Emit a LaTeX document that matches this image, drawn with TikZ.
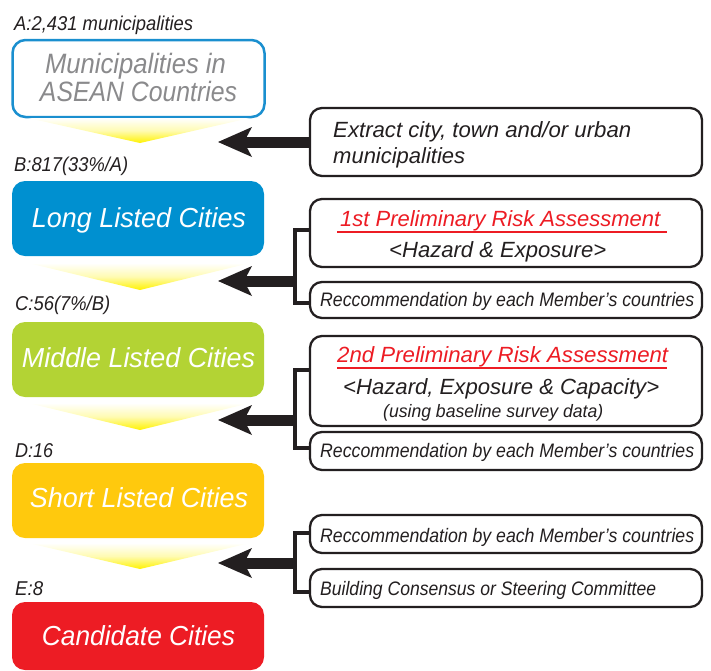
\documentclass[tikz,border=0pt]{standalone}
\usepackage{fontspec}
\setmainfont{Liberation Sans}
\usetikzlibrary{calc}
\newcommand{\fitw}[2]{\resizebox{#1}{\height}{#2}}
\definecolor{cblue}{HTML}{0090D0}
\definecolor{cbord}{HTML}{1A8FCF}
\definecolor{cgreen}{HTML}{B3D334}
\definecolor{corange}{HTML}{FFC90D}
\definecolor{cred}{HTML}{ED1C24}
\definecolor{cyel}{HTML}{FFF200}
\definecolor{cgray}{HTML}{8A8A8C}
\definecolor{ctext}{HTML}{231F20}
\begin{document}
\begin{tikzpicture}[x=1pt,y=-1pt,
  bigbox/.style={rectangle,rounded corners=13pt,minimum width=252pt,inner sep=0pt,draw=none},
  sidebox/.style={rectangle,rounded corners=12pt,minimum width=392pt,inner sep=0pt,draw=ctext,line width=2.3pt,fill=white},
  lbl/.style={anchor=base west,inner sep=0pt,text=ctext,font=\fontsize{20}{20}\selectfont\itshape},
  bigtxt/.style={anchor=base,inner sep=0pt,text=white,font=\fontsize{27.5}{27.5}\selectfont\itshape},
  sidetxt/.style={anchor=base west,inner sep=0pt,text=ctext,font=\fontsize{22}{22}\selectfont\itshape},
  smalltxt/.style={anchor=base west,inner sep=0pt,text=ctext,font=\fontsize{19.5}{19.5}\selectfont\itshape},
  redtxt/.style={anchor=base west,inner sep=0pt,text=cred,font=\fontsize{22}{22}\selectfont\itshape},
  funnel/.style={top color=white,bottom color=cyel,middle color=cyel!30},
  bracketline/.style={line width=4pt,draw=ctext,line join=miter},
  shaft/.style={line width=11pt,draw=ctext},
  head/.style={fill=ctext},
  uline/.style={line width=2.5pt,draw=cred}]
\useasboundingbox (0,0) rectangle (711,670);

% left column boxes
\node[bigbox,draw=cbord,line width=2.5pt,fill=white,minimum height=77pt] (muni) at (138.5,78.5) {};
\node[bigbox,fill=cblue,minimum height=75pt] (long) at (138,218.5) {};
\node[bigbox,fill=cgreen,minimum height=75pt] (middle) at (138,359.5) {};
\node[bigbox,fill=corange,minimum height=75pt] (short) at (138,500.5) {};
\node[bigbox,fill=cred,minimum height=68pt] (cand) at (138,636) {};

% funnels
\shade[funnel] (28,118) -- (250,118) -- (140,143) -- cycle;
\shade[funnel] (28,263) -- (250,263) -- (140,290) -- cycle;
\shade[funnel] (28,403) -- (250,403) -- (140,430) -- cycle;
\shade[funnel] (28,543) -- (250,543) -- (140,569) -- cycle;

% labels
\node[lbl] (la) at (14,30) {\fitw{179pt}{A:2,431 municipalities}};
\node[lbl] (lb) at (14,171) {\fitw{114pt}{B:817(33\%/A)}};
\node[lbl] (lc) at (15,310) {\fitw{95pt}{C:56(7\%/B)}};
\node[lbl] (ld) at (15,457) {\fitw{38pt}{D:16}};
\node[lbl] (le) at (15,595) {\fitw{28pt}{E:8}};

% left box texts
\node[bigtxt,text=cgray,font=\fontsize{28}{28}\selectfont\itshape] (munit1) at (135.5,73) {\fitw{181pt}{Municipalities in}};
\node[bigtxt,text=cgray,font=\fontsize{28}{28}\selectfont\itshape] (munit2) at (138.5,101) {\fitw{197pt}{ASEAN Countries}};
\node[bigtxt] (longt) at (139,227) {\fitw{214pt}{Long Listed Cities}};
\node[bigtxt] (middlet) at (138.5,367) {\fitw{233pt}{Middle Listed Cities}};
\node[bigtxt] (shortt) at (139,507) {\fitw{218pt}{Short Listed Cities}};
\node[bigtxt] (candt) at (138.5,645) {\fitw{193pt}{Candidate Cities}};

% right boxes
\node[sidebox,minimum height=68pt] (r1) at (506,142) {};
\node[sidebox,minimum height=68pt] (r2) at (506,233) {};
\node[sidebox,minimum height=36pt] (r3) at (506,300) {};
\node[sidebox,minimum height=90pt] (r4) at (506,381) {};
\node[sidebox,minimum height=38pt] (r5) at (506,451) {};
\node[sidebox,minimum height=38pt] (r6) at (506,534) {};
\node[sidebox,minimum height=38pt] (r7) at (506,588) {};

% right texts
\node[sidetxt] (r1a) at (333,137) {\fitw{298pt}{Extract city, town and/or urban}};
\node[sidetxt] (r1b) at (333,163) {\fitw{132pt}{municipalities}};
\node[redtxt] (r2a) at (340,226) {\fitw{320pt}{1st Preliminary Risk Assessment}};
\draw[uline] (337,232) -- (667,232);
\node[sidetxt] (r2b) at (389,257) {\fitw{217pt}{<Hazard \& Exposure>}};
\node[smalltxt] (r3a) at (320,306) {\fitw{374pt}{Reccommendation by each Member’s countries}};
\node[redtxt] (r4a) at (337,362) {\fitw{331pt}{2nd Preliminary Risk Assessment}};
\draw[uline] (337,368) -- (667,368);
\node[sidetxt] (r4b) at (343,394) {\fitw{316pt}{<Hazard, Exposure \& Capacity>}};
\node[smalltxt,font=\fontsize{18}{18}\selectfont\itshape] (r4c) at (383,417) {\fitw{220pt}{(using baseline survey data)}};
\node[smalltxt] (r5a) at (320,457) {\fitw{374pt}{Reccommendation by each Member’s countries}};
\node[smalltxt] (r6a) at (320,542) {\fitw{374pt}{Reccommendation by each Member’s countries}};
\node[smalltxt] (r7a) at (320,595) {\fitw{336pt}{Building Consensus or Steering Committee}};

% brackets
\draw[bracketline] (r2.west |- 0,230) -- (295,230) -- (295,303) -- (r3.west |- 0,303);
\draw[bracketline] (r4.west |- 0,370) -- (295,370) -- (295,448) -- (r5.west |- 0,448);
\draw[bracketline] (r6.west |- 0,533) -- (295,533) -- (295,592) -- (r7.west |- 0,592);

% arrows
\coordinate (t1) at (218,142);
\coordinate (t2) at (218,281);
\coordinate (t3) at (218,420);
\coordinate (t4) at (218,563);
\coordinate (k2) at (295,281);
\coordinate (k3) at (295,420);
\coordinate (k4) at (295,563);
\draw[shaft] (r1.west) -- ($(t1)+(24,0)$);
\draw[shaft] (k2) -- ($(t2)+(24,0)$);
\draw[shaft] (k3) -- ($(t3)+(24,0)$);
\draw[shaft] (k4) -- ($(t4)+(24,0)$);
\foreach \t in {t1,t2,t3,t4}{
  \fill[head] (\t) -- ++(34,-15) -- ++(-8,15) -- ++(8,15) -- cycle;
}
\end{tikzpicture}
\end{document}
